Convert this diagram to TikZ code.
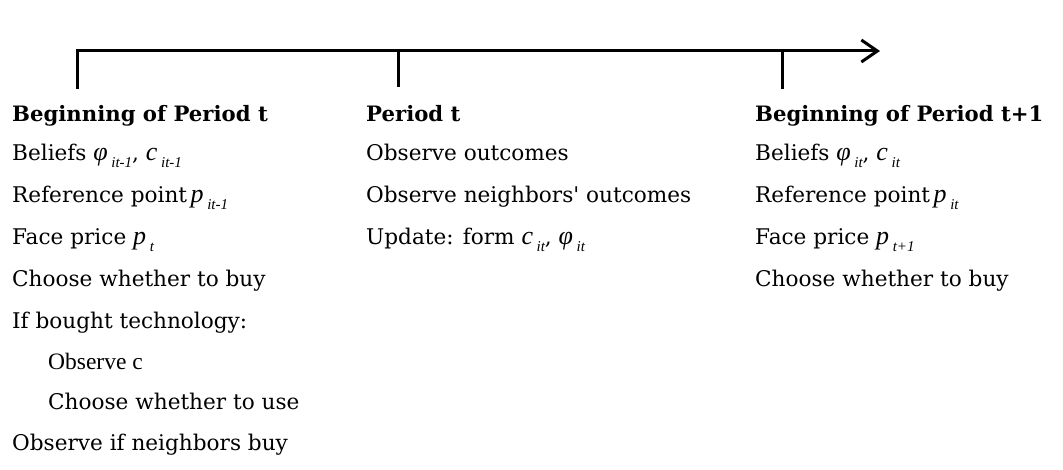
\documentclass[tikz,border=0pt]{standalone}
\usepackage{fontspec}
\setmainfont{DejaVu Serif}
\newfontfamily\tms{Liberation Serif}
\usetikzlibrary{arrows.meta}
\newcommand\mvar[1]{{\tms\itshape\fontsize{26}{26}\selectfont #1}}
\newcommand\msub[1]{\,\raisebox{-7pt}{\tms\itshape\fontsize{15}{15}\selectfont #1}}
\tikzset{
  x=1pt,y=-1pt,
  txt/.style={anchor=base west,inner sep=0pt,font=\fontsize{21.6}{24}\selectfont},
  hdr/.style={txt,font=\fontsize{21.2}{24}\selectfont\bfseries},
  axis/.style={line width=3pt,black},
}
\begin{document}
\begin{tikzpicture}
\useasboundingbox (0,0) rectangle (1063,470);
% timeline
\coordinate (a0) at (77,51);
\coordinate (a1) at (77,89);
\coordinate (m0) at (398,51);
\coordinate (m1) at (398,87);
\coordinate (r0) at (782,51);
\coordinate (r1) at (782,89);
\coordinate (end) at (880,51);
\draw[axis,-{Straight Barb[length=16pt,width=22pt]}] (a1) -- (a0) -- (end);
\draw[axis] (m0) -- (m1);
\draw[axis] (r0) -- (r1);
% left column
\node[hdr] (l0) at (12,122) {Beginning of Period t};
\node[txt] (l1) at (12,161) {Beliefs \mvar{φ}\msub{it-1}, \mvar{c}\msub{it-1}};
\node[txt] (l2) at (12,203) {Reference point\,\mvar{p}\msub{it-1}};
\node[txt] (l3) at (12,245) {Face price \mvar{p}\msub{t}};
\node[txt] (l4) at (12,287) {Choose whether to buy};
\node[txt] (l5) at (12,328.5) {If bought technology:};
\node[txt] (l6) at (48,370) {{\tms\fontsize{23.5}{24}\selectfont Observe c}};
\node[txt] (l7) at (48,409) {Choose whether to use};
\node[txt] (l8) at (12,450) {Observe if neighbors buy};
% middle column
\node[hdr] (c0) at (366,122) {Period t};
\node[txt] (c1) at (366,161) {Observe outcomes};
\node[txt] (c2) at (366,203) {Observe neighbors\textquotesingle\ outcomes};
\node[txt] (c3) at (366,245) {Update: form \mvar{c}\msub{it}, \mvar{φ}\msub{it}};
% right column
\node[hdr] (r0t) at (755,122) {Beginning of Period t+1};
\node[txt] (r1t) at (755,161) {Beliefs \mvar{φ}\msub{it}, \mvar{c}\msub{it}};
\node[txt] (r2t) at (755,203) {Reference point\,\mvar{p}\msub{it}};
\node[txt] (r3t) at (755,245) {Face price \mvar{p}\msub{t+1}};
\node[txt] (r4t) at (755,287) {Choose whether to buy};
\end{tikzpicture}
\end{document}
